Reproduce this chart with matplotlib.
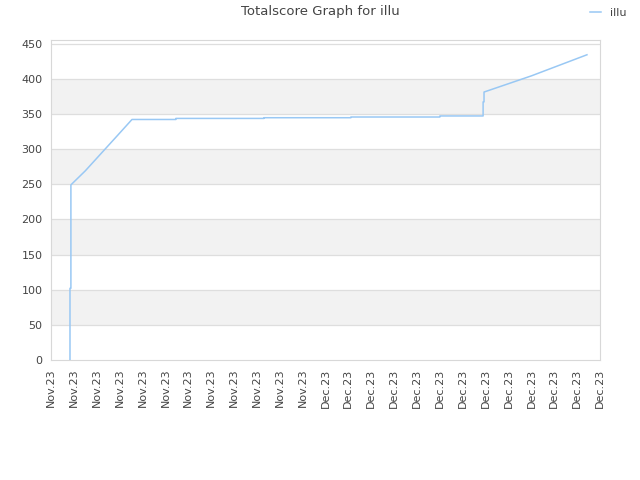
import numpy as np
import matplotlib.pyplot as plt

# score history, x in tick units (one unit per date label)
days = [0.83, 0.83, 0.87, 0.87, 1.5, 2.2, 2.9, 3.54, 5.46, 5.46, 9.31, 9.31,
        13.11, 13.11, 17.0, 17.0, 18.89, 18.89, 18.93, 18.93, 21.0, 23.43]
score = [0, 102, 102, 249, 269, 294, 319, 342, 342, 343.5, 343.5, 344.5,
         344.5, 345.5, 345.5, 347, 347, 367, 367, 381, 404, 434]
labels = ['Nov.23'] * 12 + ['Dec.23'] * 13

line_col = '#99c8f4'
txt_col = '#444444'

fig = plt.figure(figsize=(6.4, 4.8), dpi=100)
ax = fig.add_axes([51/640, 120/480, 549/640, 320/480])

# alternating bands
for i, lo in enumerate(range(0, 450, 50)):
    if i % 2 == 1:
        ax.axhspan(lo, lo + 50, color='#f2f2f2', zorder=0, lw=0)
for y in range(50, 451, 50):
    ax.axhline(y, color='#dedede', lw=0.9, zorder=1)

ax.plot(days, score, color=line_col, lw=1.1, label='illu', zorder=3)

ax.set_xlim(0, 24)
ax.set_ylim(0, 455)
ax.set_yticks(range(0, 451, 50))
ax.set_xticks(np.arange(25))
ax.set_xticklabels(labels, rotation=90)
ax.tick_params(length=0, labelsize=8, colors=txt_col, pad=6)
for s in ax.spines.values():
    s.set_color('#d8d8d8')

fig.text(0.5, 1 - 12/480, 'Totalscore Graph for illu', ha='center', va='center',
         fontsize=9.5, color=txt_col)
fig.legend(loc='upper right', bbox_to_anchor=(0.995, 1.005), frameon=False,
           fontsize=8, handlelength=1.0, handletextpad=0.8,
           labelcolor=txt_col)

fig.savefig('out.png', dpi=100)
